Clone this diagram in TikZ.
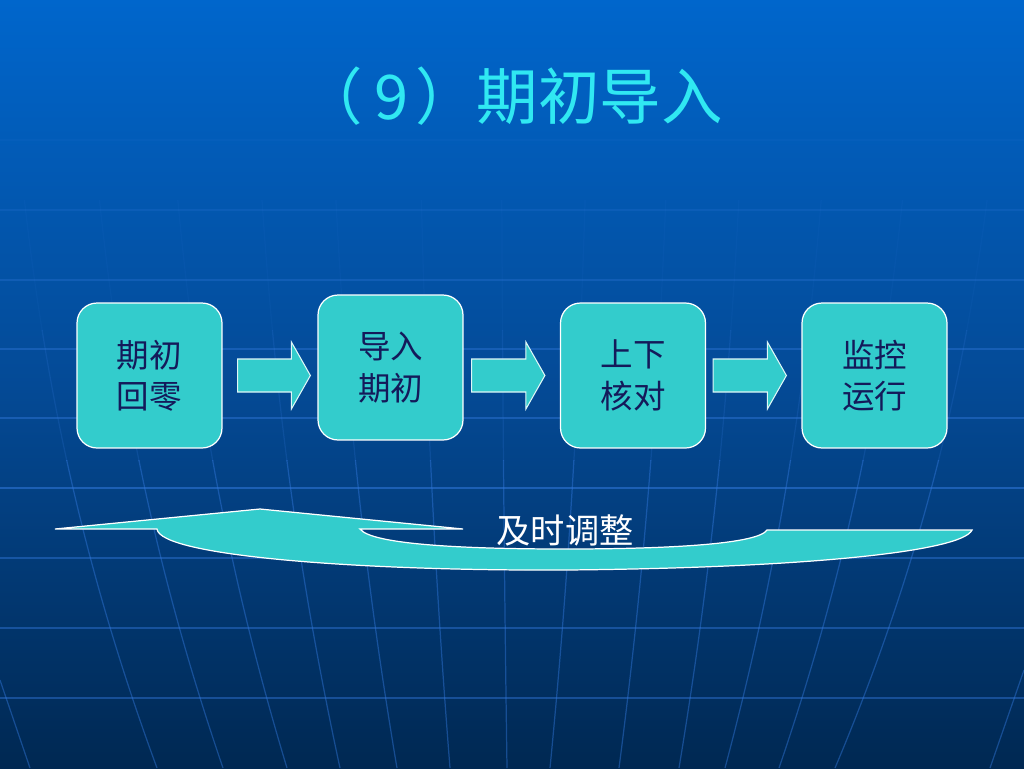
\documentclass[tikz,border=0pt]{standalone}
\usepackage{fontspec}
\newfontfamily\cjk{Noto Sans CJK SC}
\usetikzlibrary{calc}
\definecolor{bgtop}{RGB}{0,102,204}
\definecolor{bgmid}{RGB}{4,74,150}
\definecolor{bgbot}{RGB}{0,40,82}
\definecolor{cyanfill}{RGB}{51,204,204}
\definecolor{boxtext}{RGB}{20,26,90}
\definecolor{titlecol}{RGB}{48,232,242}
\definecolor{gridcol}{RGB}{50,120,220}
\tikzset{
  stepbox/.style={draw=white, line width=0.7pt, fill=cyanfill, rounded corners=0.4cm,
    minimum width=2.9cm, minimum height=2.9cm, inner sep=0pt, align=center,
    text=boxtext, font=\cjk\fontsize{18.5}{23.5}\selectfont},
  blockarrow/.style={draw=white!85!cyanfill, line width=0.6pt, fill=cyanfill},
  gridline/.style={draw=gridcol, line width=0.7pt, opacity=0.45},
}
\newcommand\blockarr[2]{%
  \draw[blockarrow] ($(#1)+(0,-16.5)$) -- ($(#2)+(-19,-16.5)$) -- ($(#2)+(-19,-33.5)$)
    -- (#2) -- ($(#2)+(-19,33.5)$) -- ($(#2)+(-19,16.5)$) -- ($(#1)+(0,16.5)$) -- cycle;}
\newcommand\meridians[1]{%
  \foreach \a/\b in {55/157,128/223,203/287,280/340,350/397,428/450,503/507,577/550,655/619,725/679,799/725,874/779,952/835}
    \draw[gridline, opacity=#1] ({\a-0.3*(\b-\a)},200) .. controls ({\a-0.1*(\b-\a)},380) and ({\a+0.25*(\b-\a)},560) .. (\b,768);
  \draw[gridline, opacity=#1] (0,680) -- (30,768);
  \draw[gridline, opacity=#1] (1024,670) -- (990,768);}
\begin{document}
\begin{tikzpicture}[x=0.02cm,y=-0.02cm]
\useasboundingbox (0,0) rectangle (1024,768);
\shade[top color=bgtop, bottom color=bgbot, middle color=bgmid] (0,0) rectangle (1024,768);
\begin{scope}
\clip (0,0) rectangle (1024,768);
\foreach \yy/\op in {140/0.1,210/0.2,280/0.3,349/0.4,418/0.45,488/0.55,558/0.45,628/0.45,698/0.45}
  \draw[gridline, opacity=\op] (0,\yy) -- (1024,\yy);
\end{scope}
\begin{scope}
\clip (0,200) rectangle (1024,330);
\meridians{0.08}
\end{scope}
\begin{scope}
\clip (0,330) rectangle (1024,460);
\meridians{0.2}
\end{scope}
\begin{scope}
\clip (0,460) rectangle (1024,768);
\meridians{0.45}
\end{scope}
% title
\node[text=titlecol, font=\cjk\fontsize{35}{40}\selectfont] (title) at (512,96) {（\hspace{0.2em}9\hspace{0.1em}）期初导入};
% boxes
\node[stepbox] (box1) at (149.5,375.5) {期初\\回零};
\node[stepbox] (box2) at (390.5,367.5) {导入\\期初};
\node[stepbox] (box3) at (633,375.5) {上下\\核对};
\node[stepbox] (box4) at (874.5,375.5) {监控\\运行};
% block arrows
\coordinate (a1s) at ($(box1.east)+(15,0)$);
\coordinate (a1e) at ($(box2.west |- box1.east)+(-7,0)$);
\coordinate (a2s) at ($(box2.east |- box1.east)+(8,0)$);
\coordinate (a2e) at ($(box3.west)+(-15,0)$);
\coordinate (a3s) at ($(box3.east)+(7,0)$);
\coordinate (a3e) at ($(box4.west)+(-15,0)$);
\blockarr{a1s}{a1e}
\blockarr{a2s}{a2e}
\blockarr{a3s}{a3e}
% curved feedback arrow
\draw[blockarrow, line width=0.7pt, draw=white]
  (55,529) -- (260,509) -- (463,529) -- (360,529)
  .. controls (372,545) and (470,549) .. (565,549)
  .. controls (670,549) and (758,544) .. (767,530)
  -- (972,530)
  .. controls (962,552) and (800,568) .. (565,570)
  .. controls (360,571) and (160,556) .. (157,529) -- cycle;
\node[text=white, font=\cjk\fontsize{19.5}{22}\selectfont] (adjust) at (565,530) {及时调整};
\end{tikzpicture}
\end{document}
